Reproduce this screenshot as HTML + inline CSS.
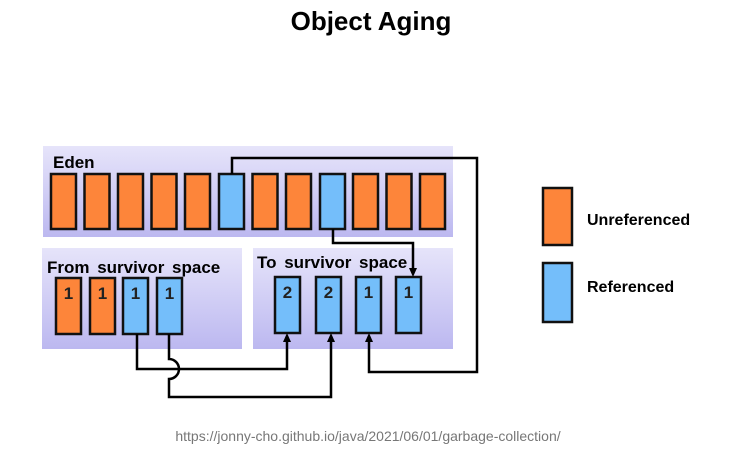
<!DOCTYPE html><html><head><style>body{margin:0;background:#fff}</style></head><body>
<svg width="742" height="466" xmlns="http://www.w3.org/2000/svg" font-family="Liberation Sans, sans-serif">
<defs>
<linearGradient id="g" x1="0" y1="0" x2="0" y2="1"><stop offset="0" stop-color="#e6e4fa"/><stop offset="1" stop-color="#bcb8f0"/></linearGradient>
</defs>
<text x="371" y="30" text-anchor="middle" font-size="26" font-weight="bold">Object Aging</text>
<rect x="43" y="146" width="410" height="91" fill="url(#g)"/>
<rect x="42" y="248" width="200" height="101" fill="url(#g)"/>
<rect x="253" y="248" width="200" height="101" fill="url(#g)"/>
<g font-weight="bold" font-size="17"><text x="53" y="168">Eden</text><text x="47" y="273" word-spacing="3">From survivor space</text><text x="257" y="268" word-spacing="3">To survivor space</text></g>
<g stroke="#111" stroke-width="2.5">
<rect x="51" y="174" width="25" height="55" fill="#fd853a"/>
<rect x="84.5" y="174" width="25" height="55" fill="#fd853a"/>
<rect x="118" y="174" width="25" height="55" fill="#fd853a"/>
<rect x="151.5" y="174" width="25" height="55" fill="#fd853a"/>
<rect x="185" y="174" width="25" height="55" fill="#fd853a"/>
<rect x="219" y="174" width="25" height="55" fill="#74befa"/>
<rect x="252.5" y="174" width="25" height="55" fill="#fd853a"/>
<rect x="286" y="174" width="25" height="55" fill="#fd853a"/>
<rect x="320" y="174" width="25" height="55" fill="#74befa"/>
<rect x="353" y="174" width="25" height="55" fill="#fd853a"/>
<rect x="386.5" y="174" width="25" height="55" fill="#fd853a"/>
<rect x="420" y="174" width="25" height="55" fill="#fd853a"/>
<rect x="56" y="278" width="25" height="56" fill="#fd853a"/>
<rect x="90" y="278" width="25" height="56" fill="#fd853a"/>
<rect x="123" y="278" width="25" height="56" fill="#74befa"/>
<rect x="157" y="278" width="25" height="56" fill="#74befa"/>
<rect x="275" y="277" width="25" height="56" fill="#74befa"/>
<rect x="316" y="277" width="25" height="56" fill="#74befa"/>
<rect x="356" y="277" width="25" height="56" fill="#74befa"/>
<rect x="396" y="277" width="25" height="56" fill="#74befa"/>
<rect x="543" y="188" width="29" height="57" fill="#fd853a"/>
<rect x="543" y="263" width="29" height="59" fill="#74befa"/>
</g>
<g font-weight="bold" font-size="17" text-anchor="middle" fill="#222">
<text x="68.5" y="299">1</text><text x="102.5" y="299">1</text><text x="135.5" y="299">1</text><text x="169.5" y="299">1</text>
<text x="287.5" y="298">2</text><text x="328.5" y="298">2</text><text x="368.5" y="298">1</text><text x="408.5" y="298">1</text>
</g>
<g fill="none" stroke="#000" stroke-width="2.5">
<path d="M232 174 V158 H477 V372 H369 V340"/>
<path d="M333 229 V243 H413 V270"/>
<path d="M137 334 V369 H287 V340"/>
<path d="M169 334 V359 A10 10 0 0 1 169 379 V397 H331 V340"/>
</g>
<g fill="#000">
<path d="M365 342 L369 333 L373 342Z"/>
<path d="M283 342 L287 333 L291 342Z"/>
<path d="M327 342 L331 333 L335 342Z"/>
<path d="M409 268 L413 277 L417 268Z"/>
</g>
<g font-weight="bold" font-size="16"><text x="587" y="225">Unreferenced</text><text x="587" y="292">Referenced</text></g>
<text x="368" y="441" text-anchor="middle" font-size="14" fill="#777">https://jonny-cho.github.io/java/2021/06/01/garbage-collection/</text>
</svg></body></html>
